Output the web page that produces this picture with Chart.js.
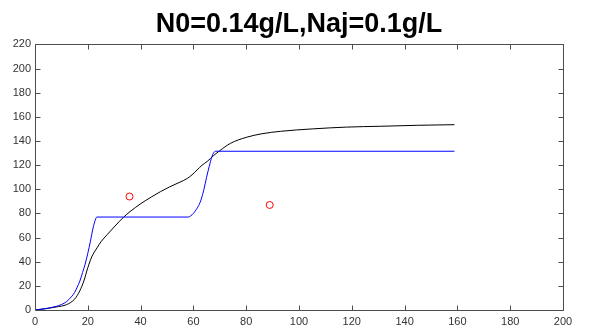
<!DOCTYPE html>
<html>
<head>
<meta charset="utf-8">
<script src="https://cdn.jsdelivr.net/npm/chart.js@4.4.1/dist/chart.umd.min.js"></script>
<style>
  html, body { margin: 0; padding: 0; background: #fff; }
  #wrap { width: 592px; height: 331px; }
</style>
</head>
<body>
<div id="wrap"><canvas id="myChart" width="592" height="331"></canvas></div>
<script>
// chart title and axis ticks
var titleText = 'N0=0.14g/L,Naj=0.1g/L';
var xTicks = [0, 20, 40, 60, 80, 100, 120, 140, 160, 180, 200];
var yTicks = [0, 20, 40, 60, 80, 100, 120, 140, 160, 180, 200, 220];

// blue model curve
var blueT = [0, 4, 8, 10, 12, 14, 15, 16, 17, 18, 19, 20, 21, 22, 23, 23.4,
             58, 59, 60, 61, 62, 63, 64, 65, 66, 67, 67.6, 68.3, 158.9];
var blueY = [0, 1.2, 3, 4.5, 7, 11.5, 14.5, 19, 24, 31, 38, 47, 57, 68, 75.5, 77,
             77, 78, 80, 83, 86.5, 92, 100, 110, 119, 127, 130, 131.5, 131.5];

// black model curve
var blackT = [0, 4, 8, 12, 15, 17, 18.5, 20, 21.5, 23.5, 25, 27.3, 30, 33.6, 36, 40, 44,
              47.5, 51, 55, 57.7, 59.5, 61.4, 63.3, 65.2, 67.7, 70, 74, 80, 86, 93,
              105, 118, 131, 145, 158.9];
var blackY = [0, 1, 2.5, 4.5, 9, 16, 24, 35, 44, 51.5, 56.5, 62.3, 68.8, 77, 81.5, 88, 93.5,
              98, 102, 106, 109, 112, 116, 120, 123, 128, 132, 138, 143, 146, 148,
              150, 151.5, 152.2, 153, 153.5];

// measured points
var measT = [35.8, 88.9];
var measY = [94, 87];

function toPoints(xs, ys) {
    var pts = [];
    for (var i = 0; i < xs.length; i++) {
        pts.push({x: xs[i], y: ys[i]});
    }
    return pts;
}

var axisColor = '#4d4d4d';
var textColor = '#333333';

// matlab style box with inward ticks
var boxPlugin = {
    id: 'boxTicks',
    afterDatasetsDraw: function (chart) {
        var ctx = chart.ctx;
        var a = chart.chartArea;
        var xs = chart.scales.x, ys = chart.scales.y;
        var L = Math.round(a.left) + 0.5, R = Math.round(a.right) + 0.5;
        var T = Math.round(a.top) + 0.5, B = Math.round(a.bottom) + 0.5;
        ctx.save();
        ctx.strokeStyle = axisColor;
        ctx.lineWidth = 1;
        ctx.beginPath();
        ctx.rect(L, T, R - L, B - T);
        xs.ticks.forEach(function (t) {
            var px = Math.round(xs.getPixelForValue(t.value)) + 0.5;
            ctx.moveTo(px, B); ctx.lineTo(px, B - 5);
            ctx.moveTo(px, T); ctx.lineTo(px, T + 5);
        });
        ys.ticks.forEach(function (t) {
            var py = Math.round(ys.getPixelForValue(t.value)) + 0.5;
            ctx.moveTo(L, py); ctx.lineTo(L + 5, py);
            ctx.moveTo(R, py); ctx.lineTo(R - 5, py);
        });
        ctx.stroke();
        ctx.restore();
    }
};

var ctx = document.getElementById('myChart').getContext('2d');
var chart = new Chart(ctx, {
    type: 'line',
    data: {
        datasets: [{
            label: 'blue',
            data: toPoints(blueT, blueY),
            borderColor: '#0000ff',
            borderWidth: 1,
            pointRadius: 0,
            fill: false,
            cubicInterpolationMode: 'monotone'
        }, {
            label: 'black',
            data: toPoints(blackT, blackY),
            borderColor: '#000000',
            borderWidth: 1,
            pointRadius: 0,
            fill: false,
            cubicInterpolationMode: 'monotone'
        }, {
            label: 'measured',
            data: toPoints(measT, measY),
            showLine: false,
            pointStyle: 'circle',
            pointRadius: 3.5,
            pointBorderWidth: 1,
            borderColor: '#ff0000',
            pointBorderColor: '#ff0000',
            pointBackgroundColor: 'rgba(0,0,0,0)'
        }]
    },
    options: {
        responsive: false,
        animation: false,
        layout: { padding: { left: 0, right: 29, top: 0, bottom: 0 } },
        plugins: {
            legend: { display: false },
            tooltip: { enabled: false },
            title: {
                display: true,
                text: titleText,
                color: '#000',
                fullSize: false, // center over the plot box, not the canvas
                font: { family: 'Liberation Sans, Arial, sans-serif', size: 27, weight: 'bold' },
                padding: { top: 8, bottom: 4 }
            }
        },
        scales: {
            x: {
                type: 'linear',
                min: 0, max: 200,
                grid: { display: false, drawTicks: false },
                border: { display: false },
                afterBuildTicks: function (s) { s.ticks = xTicks.map(function (v) { return {value: v}; }); },
                afterFit: function (s) { s.height = 21; },
                ticks: {
                    color: textColor,
                    padding: 5,
                    maxRotation: 0,
                    autoSkip: false,
                    font: { family: 'Liberation Sans, Arial, sans-serif', size: 11 }
                }
            },
            y: {
                type: 'linear',
                min: 0, max: 220,
                grid: { display: false, drawTicks: false },
                border: { display: false },
                afterBuildTicks: function (s) { s.ticks = yTicks.map(function (v) { return {value: v}; }); },
                afterFit: function (s) { s.width = 35; },
                ticks: {
                    color: textColor,
                    padding: 4,
                    autoSkip: false,
                    font: { family: 'Liberation Sans, Arial, sans-serif', size: 11 }
                }
            }
        }
    },
    plugins: [boxPlugin]
});
</script>
</body>
</html>
